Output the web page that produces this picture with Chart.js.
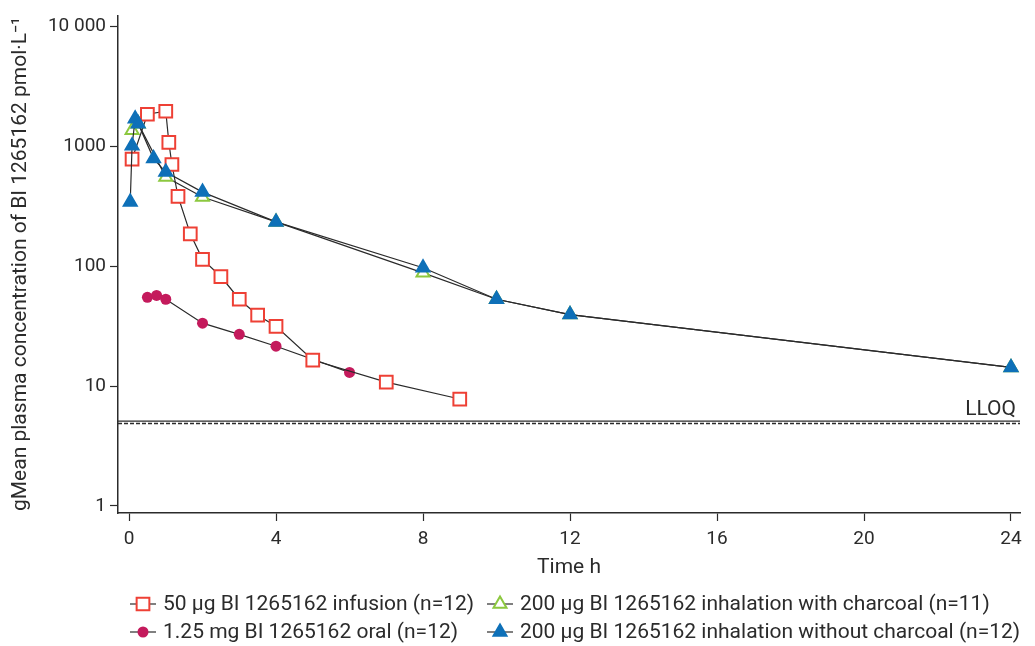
<!DOCTYPE html>
<html>
<head>
<meta charset="utf-8">
<script src="https://cdn.jsdelivr.net/npm/chart.js@4"></script>
<style>
  html, body { margin: 0; padding: 0; background: #fff; }
  #wrap { width: 1035px; height: 646px; }
</style>
</head>
<body>
<div id="wrap"><canvas id="pk"></canvas></div>
<script>
// time in hours, gMean concentration in pmol/L
var infusionTime = [0.083, 0.5, 1, 1.083, 1.167, 1.333, 1.667, 2, 2.5, 3, 3.5, 4, 5, 7, 9];
var infusionConc = [780, 1850, 1960, 1080, 705, 383, 186, 114, 82, 53, 39, 31.5, 16.5, 10.8, 7.8];

var oralTime = [0.5, 0.75, 1, 2, 3, 4, 6];
var oralConc = [55, 57, 53, 33.5, 27, 21.5, 13];

var charcoalTime = [0.083, 0.25, 1, 2, 4, 8, 10, 12, 24];
var charcoalConc = [1360, 1545, 555, 378, 234, 88, 53, 39.5, 14.3];

var noCharcoalTime = [0.033, 0.083, 0.167, 0.25, 0.667, 1, 2, 4, 8, 10, 12, 24];
var noCharcoalConc = [343, 1010, 1700, 1545, 790, 610, 415, 234, 97, 53, 39.5, 14.3];

var xTicks = [0, 4, 8, 12, 16, 20, 24];
var yTicks = [1, 10, 100, 1000, 10000];
var yTickLabels = ['1', '10', '100', '1000', '10 000'];
var LLOQ = 5;

var labels = [
  '50 \u00b5g BI 1265162 infusion (n=12)',
  '1.25 mg BI 1265162 oral (n=12)',
  '200 \u00b5g BI 1265162 inhalation with charcoal (n=11)',
  '200 \u00b5g BI 1265162 inhalation without charcoal (n=12)'
];

var ink = '#2b2b2b';
var fontFam = 'Roboto, "Open Sans", sans-serif';

function pts(t, c) {
  return t.map(function (v, i) { return { x: v, y: c[i] }; });
}

// lower order is painted last, blue sits on top
var datasets = [
  {
    label: labels[0], data: pts(infusionTime, infusionConc), order: 1,
    pointStyle: 'rect', pointRadius: 9, pointBorderWidth: 2,
    pointBorderColor: '#ee4035', pointBackgroundColor: '#ffffff'
  },
  {
    label: labels[1], data: pts(oralTime, oralConc), order: 3,
    pointStyle: 'circle', pointRadius: 5.5, pointBorderWidth: 0,
    pointBorderColor: '#c41a5c', pointBackgroundColor: '#c41a5c'
  },
  {
    label: labels[2], data: pts(charcoalTime, charcoalConc), order: 2,
    pointStyle: 'triangle', pointRadius: 7.5, pointBorderWidth: 2,
    pointBorderColor: '#8cc83f', pointBackgroundColor: '#ffffff'
  },
  {
    label: labels[3], data: pts(noCharcoalTime, noCharcoalConc), order: 0,
    pointStyle: 'triangle', pointRadius: 7.5, pointBorderWidth: 2,
    pointBorderColor: '#0e70b8', pointBackgroundColor: '#0e70b8'
  }
];
datasets.forEach(function (d) {
  d.borderColor = ink;
  d.borderWidth = 1.2;
  d.fill = false;
  d.tension = 0;
  d.pointHoverRadius = d.pointRadius;
});

// LLOQ line: solid with a dashed line just under it
var lloqPlugin = {
  id: 'lloq',
  beforeDatasetsDraw: function (chart) {
    var ctx = chart.ctx, a = chart.chartArea;
    var y = chart.scales.y.getPixelForValue(LLOQ);
    ctx.save();
    ctx.strokeStyle = ink;
    ctx.lineWidth = 1.3;
    ctx.beginPath(); ctx.moveTo(a.left, y - 1); ctx.lineTo(a.right, y - 1); ctx.stroke();
    ctx.setLineDash([4, 2]);
    ctx.beginPath(); ctx.moveTo(a.left, y + 1.3); ctx.lineTo(a.right, y + 1.3); ctx.stroke();
    ctx.setLineDash([]);
    ctx.fillStyle = ink;
    ctx.font = '21px ' + fontFam;
    ctx.textAlign = 'right';
    ctx.textBaseline = 'alphabetic';
    ctx.fillText('LLOQ', a.right - 4, y - 7);
    ctx.restore();
  }
};

// two-column legend under the axis
var legendPlugin = {
  id: 'twoColLegend',
  afterDraw: function (chart) {
    var ctx = chart.ctx;
    var cols = [143, 500];
    var rows = [604, 632];
    var place = [[0, 0], [1, 0], [0, 1], [1, 1]]; // [row, col] per dataset
    ctx.save();
    ctx.font = '21px ' + fontFam;
    ctx.textBaseline = 'middle';
    ctx.textAlign = 'left';
    datasets.forEach(function (d, i) {
      var x = cols[place[i][1]], y = rows[place[i][0]];
      ctx.strokeStyle = ink;
      ctx.lineWidth = 1.2;
      ctx.beginPath(); ctx.moveTo(x - 13, y); ctx.lineTo(x + 13, y); ctx.stroke();
      ctx.fillStyle = d.pointBackgroundColor;
      ctx.strokeStyle = d.pointBorderColor;
      ctx.lineWidth = d.pointBorderWidth;
      Chart.helpers.drawPoint(ctx, {
        pointStyle: d.pointStyle, radius: d.pointRadius, borderWidth: d.pointBorderWidth, rotation: 0
      }, x, y);
      ctx.fillStyle = ink;
      ctx.fillText(d.label, x + 20, y + 1);
    });
    ctx.restore();
  }
};

var ctx = document.getElementById('pk');
var pkChart = new Chart(ctx, {
  type: 'line',
  data: { datasets: datasets },
  plugins: [lloqPlugin, legendPlugin],
  options: {
    responsive: true,
    maintainAspectRatio: false,
    animation: false,
    layout: { padding: { top: 7, right: 15, bottom: 64, left: 0 } },
    plugins: {
      legend: { display: false },
      tooltip: { enabled: false }
    },
    scales: {
      x: {
        type: 'linear',
        min: -0.3,
        max: 24.245,
        afterBuildTicks: function (s) { s.ticks = xTicks.map(function (v) { return { value: v }; }); },
        afterFit: function (s) { s.height = 69; },
        grid: { drawOnChartArea: false, drawTicks: true, tickLength: 8, tickColor: ink, tickWidth: 1.2 },
        border: { display: true, color: ink, width: 1.5 },
        ticks: { color: ink, font: { family: fontFam, size: 19 }, padding: 7, maxRotation: 0 },
        title: { display: true, text: 'Time h', color: ink, font: { family: fontFam, size: 21 }, padding: { top: 2, bottom: 2 } }
      },
      y: {
        type: 'logarithmic',
        min: 0.874,
        max: 12350,
        afterBuildTicks: function (s) { s.ticks = yTicks.map(function (v) { return { value: v }; }); },
        afterFit: function (s) { s.width = 118; },
        grid: { drawOnChartArea: false, drawTicks: true, tickLength: 8, tickColor: ink, tickWidth: 1.2 },
        border: { display: true, color: ink, width: 1.5 },
        ticks: {
          color: ink, font: { family: fontFam, size: 19 }, padding: 4,
          callback: function (v) { var i = yTicks.indexOf(v); return i >= 0 ? yTickLabels[i] : ''; }
        },
        title: {
          display: true, text: 'gMean plasma concentration of BI 1265162 pmol\u00b7L\u207b\u00b9',
          color: ink, font: { family: fontFam, size: 21 }, padding: { top: 8, bottom: 0 }
        }
      }
    }
  }
});
</script>
</body>
</html>
